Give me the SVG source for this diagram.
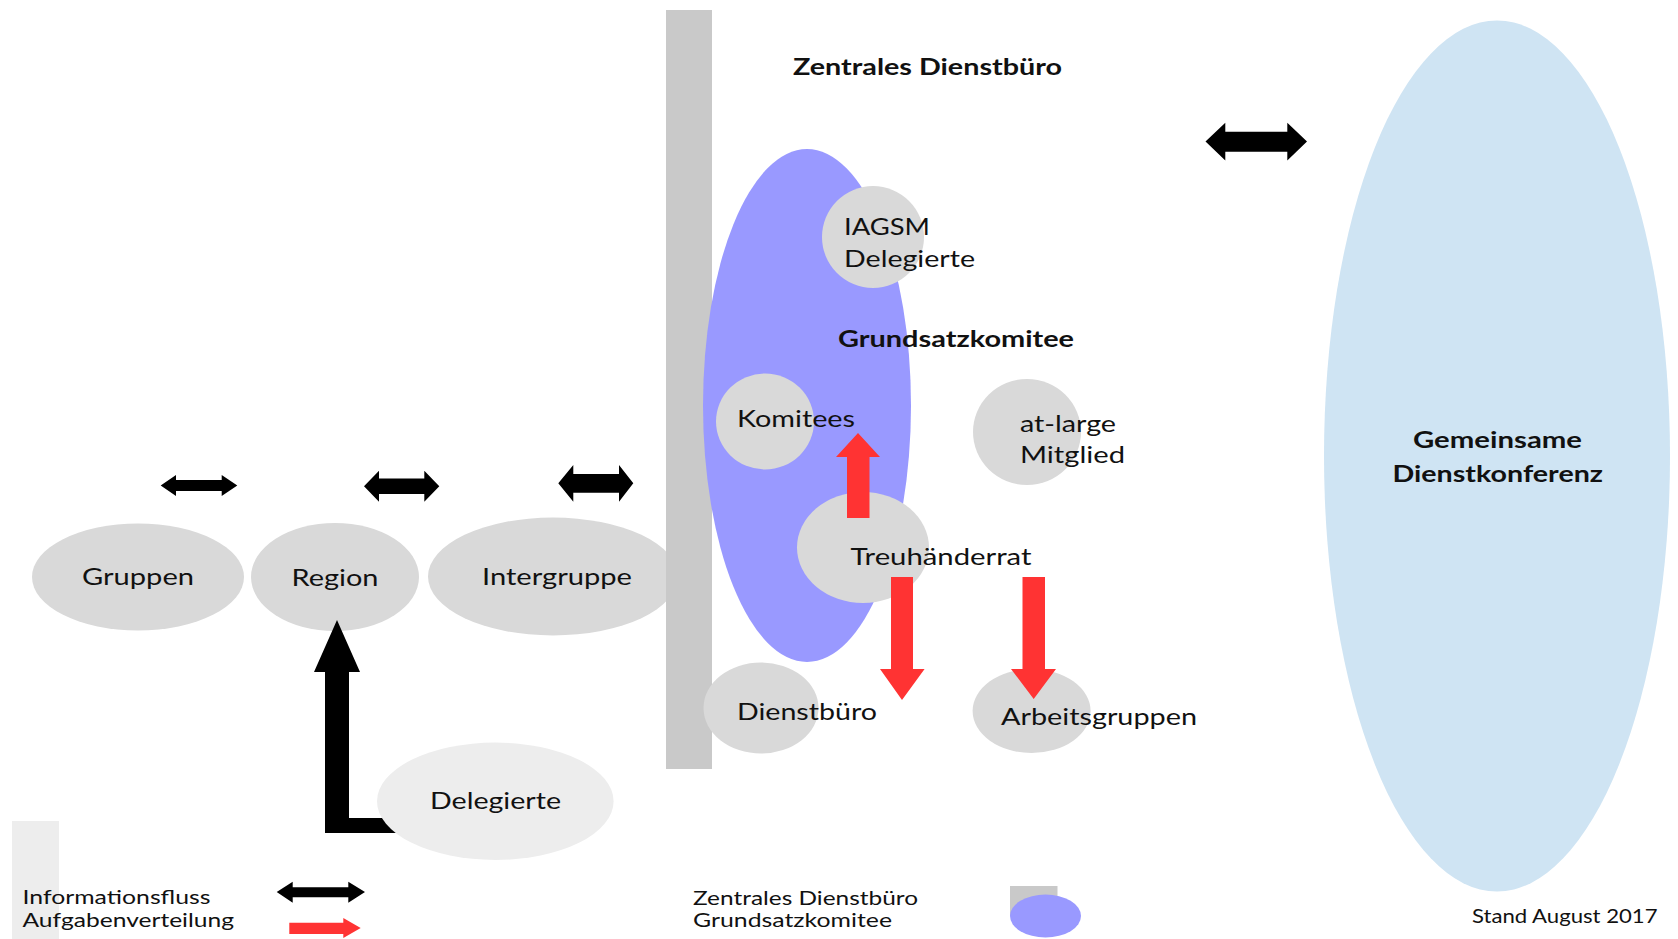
<svg xmlns="http://www.w3.org/2000/svg" width="1678" height="939" viewBox="0 0 1678 939">
<style>
.t{font-family:Lato,"Liberation Sans",sans-serif;font-size:22.5px;fill:#111}
.b{font-weight:bold;font-size:22px}
.s{font-size:19.5px}
.gray{fill:#d9d9d9}
.light{fill:#ededed}
.bar{fill:#c9c9c9}
.blue{fill:#9999ff}
.sky{fill:#cfe4f3}
.blk{fill:#000}
.red{fill:#ff3333}
</style>
<rect width="1678" height="939" fill="#fff"/>
<g id="gemeinsame-dienstkonferenz">
<ellipse class="sky" cx="1497" cy="456" rx="173" ry="435.5"/>
<text class="t b" x="1413" y="448" textLength="169" lengthAdjust="spacingAndGlyphs">Gemeinsame</text>
<text class="t b" x="1392.5" y="481.7" textLength="210.5" lengthAdjust="spacingAndGlyphs">Dienstkonferenz</text>
</g>
<g id="gruppen">
<ellipse class="gray" cx="138" cy="577" rx="106" ry="53.5"/>
<text class="t" x="82" y="585" textLength="112" lengthAdjust="spacingAndGlyphs">Gruppen</text>
</g>
<g id="region">
<ellipse class="gray" cx="335" cy="577" rx="84" ry="54"/>
<text class="t" x="291.5" y="586" textLength="87" lengthAdjust="spacingAndGlyphs">Region</text>
</g>
<g id="intergruppe">
<ellipse class="gray" cx="553" cy="576.5" rx="125" ry="59"/>
<text class="t" x="482" y="585" textLength="150" lengthAdjust="spacingAndGlyphs">Intergruppe</text>
</g>
<g id="zentrales-dienstbuero">
<rect class="bar" x="666" y="10" width="46" height="759"/>
<text class="t b" x="793" y="75" textLength="269" lengthAdjust="spacingAndGlyphs">Zentrales Dienstbüro</text>
</g>
<g id="grundsatzkomitee">
<ellipse class="blue" cx="807" cy="405.5" rx="104" ry="256.5"/>
<text class="t b" x="838" y="346.5" textLength="236" lengthAdjust="spacingAndGlyphs">Grundsatzkomitee</text>
</g>
<g id="iagsm-delegierte">
<ellipse class="gray" cx="873" cy="237" rx="51" ry="51"/>
<text class="t" x="844" y="235" textLength="86" lengthAdjust="spacingAndGlyphs">IAGSM</text>
<text class="t" x="844" y="266.7" textLength="131" lengthAdjust="spacingAndGlyphs">Delegierte</text>
</g>
<g id="komitees">
<ellipse class="gray" cx="765" cy="421.5" rx="49" ry="48"/>
<text class="t" x="737" y="427" textLength="118" lengthAdjust="spacingAndGlyphs">Komitees</text>
</g>
<g id="at-large-mitglied">
<ellipse class="gray" cx="1027" cy="432" rx="54" ry="53"/>
<text class="t" x="1020" y="431.7" textLength="96" lengthAdjust="spacingAndGlyphs">at-large</text>
<text class="t" x="1020" y="462.7" textLength="105" lengthAdjust="spacingAndGlyphs">Mitglied</text>
</g>
<g id="treuhaenderrat">
<ellipse class="gray" cx="863" cy="547.5" rx="66" ry="55.5"/>
<text class="t" x="850.5" y="565" textLength="181" lengthAdjust="spacingAndGlyphs">Treuhänderrat</text>
</g>
<g id="dienstbuero">
<ellipse class="gray" cx="761" cy="708" rx="57.5" ry="45.5"/>
<text class="t" x="737" y="720" textLength="140" lengthAdjust="spacingAndGlyphs">Dienstbüro</text>
</g>
<g id="arbeitsgruppen">
<ellipse class="gray" cx="1031.6" cy="711" rx="59" ry="42"/>
<text class="t" x="1001" y="725" textLength="196" lengthAdjust="spacingAndGlyphs">Arbeitsgruppen</text>
</g>
<g id="connectors">
<path class="blk" d="M160.7 485.5 L176 475 L176 480 L221.7 480 L221.7 475 L237.3 485.5 L221.7 496 L221.7 491 L176 491 L176 496 Z"/>
<path class="blk" d="M364 486.2 L379 470.7 L379 478.4 L424.3 478.4 L424.3 470.7 L439.3 486.2 L424.3 501.7 L424.3 494 L379 494 L379 501.7 Z"/>
<path class="blk" d="M558.3 483.3 L573.3 465 L573.3 474 L619 474 L619 465 L633.3 483.3 L619 501.7 L619 492.7 L573.3 492.7 L573.3 501.7 Z"/>
<path class="blk" d="M1205.5 141.5 L1225.3 122.7 L1225.3 131.7 L1287.3 131.7 L1287.3 122.7 L1307 141.5 L1287.3 160.5 L1287.3 151.7 L1225.3 151.7 L1225.3 160.5 Z"/>
<path class="blk" d="M325 833 L325 672 L314 672 L337 620 L360 672 L349 672 L349 818 L400 818 L400 833 Z"/>
<path class="red" d="M847 518 L847 457 L836 457 L858 433 L880 457 L869.5 457 L869.5 518 Z"/>
<path class="red" d="M891 577 L913 577 L913 669 L924.6 669 L902 700 L880 669 L891 669 Z"/>
<path class="red" d="M1022.5 577 L1045 577 L1045 669 L1056 669 L1033.7 699 L1011 669 L1022.5 669 Z"/>
</g>
<g id="delegierte">
<ellipse class="light" cx="495.3" cy="801.3" rx="118.3" ry="58.7"/>
<text class="t" x="430" y="809" textLength="131" lengthAdjust="spacingAndGlyphs">Delegierte</text>
</g>
<g id="legend">
<rect class="light" x="12" y="821" width="47" height="118"/>
<text class="t s" x="22.5" y="904" textLength="188" lengthAdjust="spacingAndGlyphs">Informationsfluss</text>
<text class="t s" x="22.5" y="926.7" textLength="211.5" lengthAdjust="spacingAndGlyphs">Aufgabenverteilung</text>
<path class="blk" d="M276.7 892 L292.7 881.7 L292.7 887.3 L348.3 887.3 L348.3 881.7 L365 892 L348.3 902.7 L348.3 897.3 L292.7 897.3 L292.7 902.7 Z"/>
<path class="red" d="M289.3 922.7 L343.3 922.7 L343.3 918 L360.7 928 L343.3 938 L343.3 934 L289.3 934 Z"/>
<text class="t s" x="693" y="905" textLength="225" lengthAdjust="spacingAndGlyphs">Zentrales Dienstbüro</text>
<text class="t s" x="693" y="926.7" textLength="199" lengthAdjust="spacingAndGlyphs">Grundsatzkomitee</text>
<rect class="bar" x="1010" y="886" width="47.5" height="30"/>
<ellipse class="blue" cx="1045.5" cy="916" rx="35.5" ry="21.5"/>
<text class="t" x="1472" y="923" font-size="18.6" style="font-size:18.6px" textLength="185.5" lengthAdjust="spacingAndGlyphs">Stand August 2017</text>
</g>
</svg>
